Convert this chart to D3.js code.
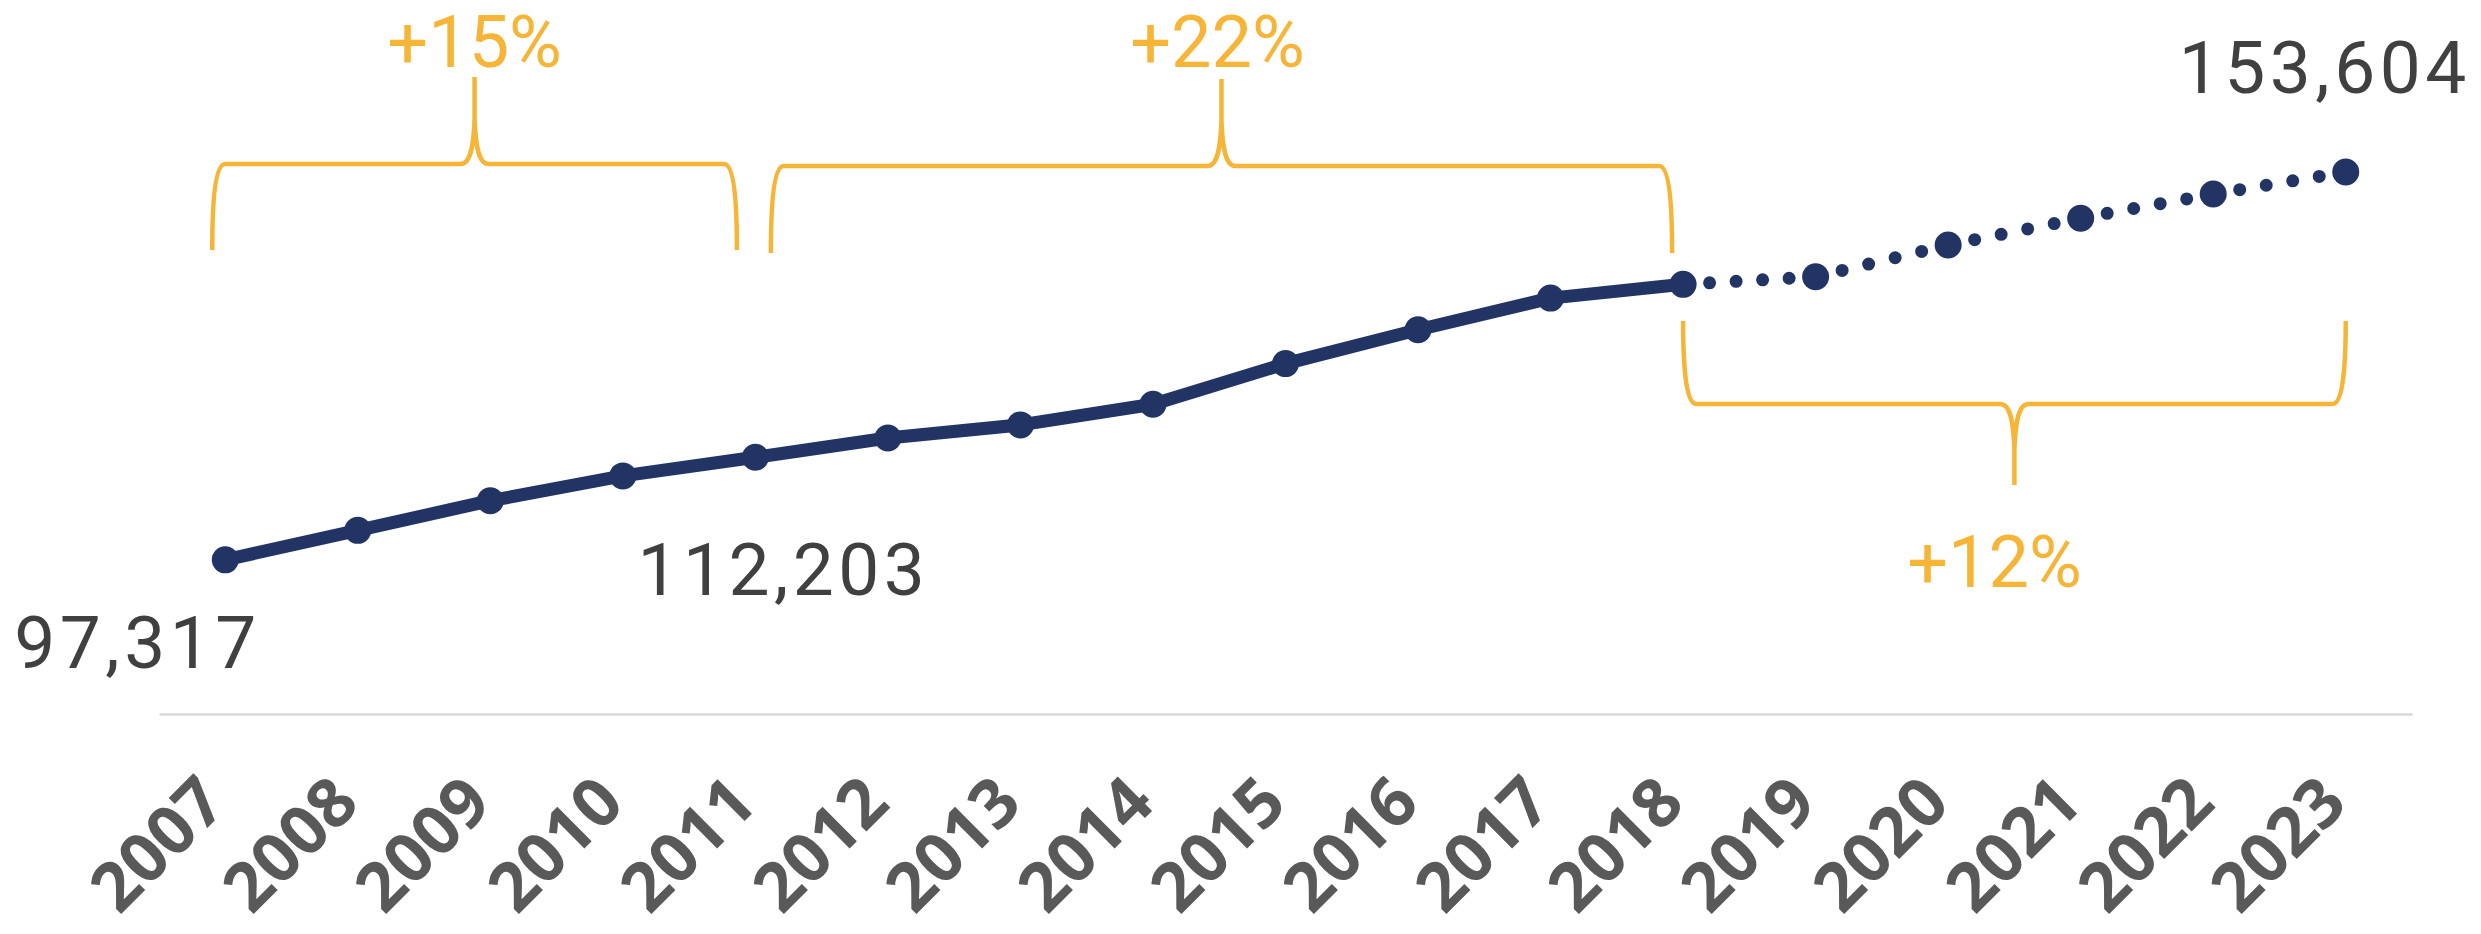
<!DOCTYPE html>
<html lang="en">
  <head>
    <meta charset="utf-8" />
    <title>Growth 2007-2023</title>
    <script src="https://d3js.org/d3.v7.min.js"></script>
    <style>
      body { margin: 0; background: #fff; }
      svg { display: block; }
    </style>
  </head>
  <body>
    <div id="chart"></div>
    <script>
      // Data
      const years = ["2007", "2008", "2009", "2010", "2011", "2012", "2013", "2014", "2015",
        "2016", "2017", "2018", "2019", "2020", "2021", "2022", "2023"];
      const values = [97317, 101600, 105900, 109500, 112203, 115000, 116900, 119900, 125800,
        130700, 135300, 137300, 138400, 143000, 146900, 150400, 153604];
      // last actual year, after it the line is dotted (projection)
      const lastActual = "2018";
      // labelled values
      const labelYears = ["2007", "2011", "2023"];
      // growth brackets
      const bracketFrom = ["2007", "2011", "2018"];
      const bracketTo = ["2011", "2018", "2023"];
      const bracketLabels = ["+15%", "+22%", "+12%"];

      const W = 2481, H = 934;
      const navy = "#223463", orange = "#F7B538", grey = "#404040";

      const svg = d3.select("#chart").append("svg")
        .attr("width", W).attr("height", H);

      const x = d3.scalePoint().domain(years).range([159, 2412]).padding(0.5);
      const y = d3.scaleLinear().domain([80000, 160000]).range([679.2, 127.9]);

      const data = years.map((yr, i) => ({ year: yr, value: values[i] }));
      const split = years.indexOf(lastActual);
      const actual = data.slice(0, split + 1);
      const projected = data.slice(split);

      // baseline / x axis
      const xAxis = svg.append("g")
        .attr("transform", "translate(0,714)")
        .call(d3.axisBottom(x).tickSize(0).tickFormat(""));
      xAxis.select(".domain").attr("stroke", "#D9D9D9").attr("stroke-width", 2.5);

      svg.append("g").selectAll("text")
        .data(years)
        .join("text")
        .attr("transform", (d) => `translate(${x(d) + 4},806) rotate(-45)`)
        .attr("text-anchor", "end")
        .attr("font-family", "'Open Sans', sans-serif")
        .attr("font-weight", 700)
        .attr("font-size", 68)
        .attr("fill", "#595959")
        .text((d) => d);

      // solid line for actual values
      const line = d3.line().x((d) => x(d.year)).y((d) => y(d.value));
      svg.append("path")
        .datum(actual)
        .attr("d", line)
        .attr("fill", "none")
        .attr("stroke", navy)
        .attr("stroke-width", 13)
        .attr("stroke-linejoin", "round");

      // dotted projection, each segment split into 5 gaps
      d3.pairs(projected).forEach(([a, b]) => {
        const p = svg.append("path")
          .datum([a, b])
          .attr("d", line)
          .attr("fill", "none")
          .attr("stroke", navy)
          .attr("stroke-width", 13)
          .attr("stroke-linecap", "round");
        const len = p.node().getTotalLength();
        p.attr("stroke-dasharray", `0 ${len / 5}`);
      });

      // markers
      svg.append("g").selectAll("circle")
        .data(data)
        .join("circle")
        .attr("cx", (d) => x(d.year))
        .attr("cy", (d) => y(d.value))
        .attr("r", 13.5)
        .attr("fill", navy);

      // value labels
      const fmt = d3.format(",");
      const labelPos = {
        "2007": { dx: -211, dy: 108 },
        "2011": { dx: -118, dy: 138 },
        "2023": { dx: -167, dy: -79 },
      };
      svg.append("g").selectAll("text")
        .data(data.filter((d) => labelYears.includes(d.year)))
        .join("text")
        .attr("x", (d) => x(d.year) + labelPos[d.year].dx)
        .attr("y", (d) => y(d.value) + labelPos[d.year].dy)
        .attr("font-family", "Roboto, sans-serif")
        .attr("font-size", 73)
        .attr("letter-spacing", 4.5)
        .attr("fill", grey)
        .text((d) => fmt(d.value));

      // curly brackets
      function brace(x0, x1, yEnd, yBar, yTip) {
        const d = Math.sign(yEnd - yBar); // +1 when ends point down
        const xs = (x0 + x1) / 2;
        const p = d3.path();
        p.moveTo(x0, yEnd);
        p.bezierCurveTo(x0, yBar + d * 45, x0 + 2, yBar, x0 + 13, yBar);
        p.lineTo(xs - 14, yBar);
        p.bezierCurveTo(xs - 4, yBar, xs - 1, yBar - d * 18, xs, yBar - d * 45);
        p.lineTo(xs, yTip);
        p.moveTo(xs, yBar - d * 45);
        p.bezierCurveTo(xs + 1, yBar - d * 18, xs + 4, yBar, xs + 14, yBar);
        p.lineTo(x1 - 13, yBar);
        p.bezierCurveTo(x1 - 2, yBar, x1, yBar + d * 45, x1, yEnd);
        return p.toString();
      }
      const braceGeo = [
        { a: -13, b: -18.5, yEnd: 250, yBar: 164, yTip: 77, lx: 0, ly: 67 },
        { a: 15.5, b: -11, yEnd: 253, yBar: 166, yTip: 79, lx: -4, ly: 67 },
        { a: 0, b: 0, yEnd: 321, yBar: 404, yTip: 485, lx: -20, ly: 587 },
      ];
      bracketLabels.forEach((lbl, i) => {
        const g = braceGeo[i];
        const x0 = x(bracketFrom[i]) + g.a;
        const x1 = x(bracketTo[i]) + g.b;
        svg.append("path")
          .attr("d", brace(x0, x1, g.yEnd, g.yBar, g.yTip))
          .attr("fill", "none")
          .attr("stroke", orange)
          .attr("stroke-width", 4.5);
        svg.append("text")
          .attr("x", (x0 + x1) / 2 + g.lx)
          .attr("y", g.ly)
          .attr("text-anchor", "middle")
          .attr("font-family", "Roboto, sans-serif")
          .attr("font-size", 72)
          .attr("fill", orange)
          .text(lbl);
      });
    </script>
  </body>
</html>
